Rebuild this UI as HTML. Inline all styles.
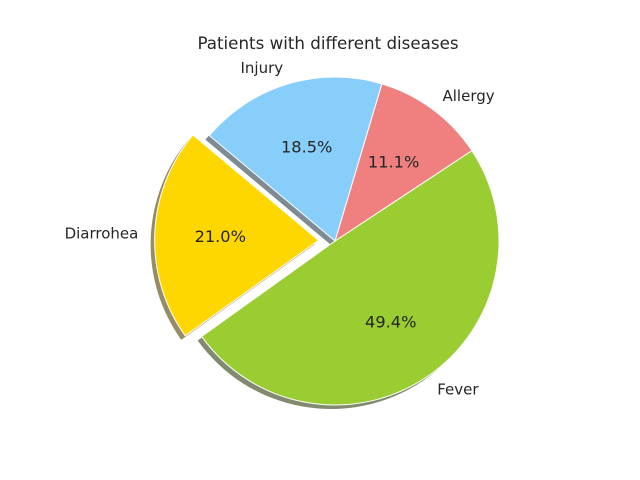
<!DOCTYPE html>
<html><head><meta charset="utf-8">
<style>
body{margin:0;background:#fff;}
svg{display:block;font-family:"DejaVu Sans","Liberation Sans",sans-serif;}
</style></head>
<body>
<svg id="chart" width="640" height="480" viewBox="0 0 640 480" xmlns="http://www.w3.org/2000/svg">
<rect width="640" height="480" fill="#fff"/>
<text x="328" y="49" text-anchor="middle" font-size="16.7" fill="#262626">Patients with different diseases</text>
<g id="shadows"></g>
<g id="slices"></g>
<g id="labels"></g>
</svg>
<script>
const categories = ["Diarrhea","Fever","Allergy","Injury"];
const displayLabels = ["Diarrohea","Fever","Allergy","Injury"];
const values = [21.0, 49.4, 11.1, 18.5];
const colors = ["#ffd700","#9acd32","#f08080","#87cefa"];
const explode = [0.1, 0, 0, 0];
const startAngle = 140;

const cx = 335, cy = 241, R = 164;
const NS = "http://www.w3.org/2000/svg";
const total = values.reduce((a,b)=>a+b,0);
function pt(x,y,a,r){const t=a*Math.PI/180;return [x+r*Math.cos(t), y-r*Math.sin(t)];}
function wedge(x,y,a0,a1,r){
  const p0=pt(x,y,a0,r), p1=pt(x,y,a1,r);
  const large=(a1-a0)>180?1:0;
  return `M${x},${y} L${p0[0]},${p0[1]} A${r},${r} 0 ${large} 0 ${p1[0]},${p1[1]} Z`;
}
function shade(c){
  const n=parseInt(c.slice(1),16);
  const f=v=>Math.round(255-(255-v*0.3)*0.6);
  return `rgb(${f(n>>16)},${f((n>>8)&255)},${f(n&255)})`;
}
const gS=document.getElementById('shadows'), gW=document.getElementById('slices'), gL=document.getElementById('labels');
let a=startAngle;
values.forEach((v,i)=>{
  const span=v/total*360, a0=a, a1=a+span, mid=(a0+a1)/2;
  const off=explode[i]*R;
  const [ox,oy]=pt(cx,cy,mid,off);
  const sh=document.createElementNS(NS,'path');
  sh.setAttribute('d',wedge(ox-4,oy+4,a0,a1,R));
  sh.setAttribute('fill',shade(colors[i]));
  
  
  gS.appendChild(sh);
  const p=document.createElementNS(NS,'path');
  p.setAttribute('d',wedge(ox,oy,a0,a1,R));
  p.setAttribute('fill',colors[i]);
  p.setAttribute('stroke','#fff');
  p.setAttribute('stroke-width','1');
  
  
  gW.appendChild(p);
  const [px,py]=pt(ox,oy,mid,R*0.6);
  const t=document.createElementNS(NS,'text');
  t.setAttribute('x',px);t.setAttribute('y',py+5.5);
  t.setAttribute('text-anchor','middle');t.setAttribute('font-size','16.2');t.setAttribute('fill','#262626');
  t.textContent=v.toFixed(1)+'%';
  
  
  gL.appendChild(t);
  const [lx,ly]=pt(ox,oy,mid,R*1.1);
  const l=document.createElementNS(NS,'text');
  l.setAttribute('x',lx);l.setAttribute('y',ly+5);
  l.setAttribute('text-anchor',Math.cos(mid*Math.PI/180)>=0?'start':'end');
  l.setAttribute('font-size','15');l.setAttribute('fill','#262626');
  l.textContent=displayLabels[i];
  
  
  gL.appendChild(l);
  a=a1;
});
</script>
</body></html>
